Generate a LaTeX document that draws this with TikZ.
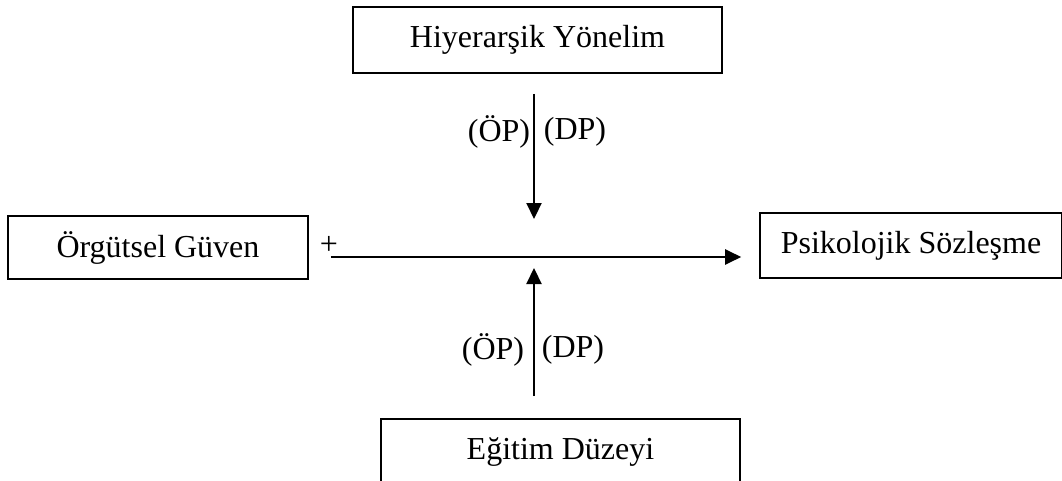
\documentclass[tikz,border=0pt]{standalone}
\usepackage{fontspec}
\setmainfont{Liberation Serif}
\usetikzlibrary{arrows.meta}
\begin{document}
\begin{tikzpicture}[x=1pt,y=-1pt,
  box/.style={draw,line width=1.6pt,inner sep=0pt,font=\fontsize{32}{36}\selectfont},
  lbl/.style={inner sep=0pt,font=\fontsize{32}{36}\selectfont},
  arr/.style={line width=2.2pt,-{Triangle[length=16pt,width=15pt]}}]
\clip (0,0) rectangle (1062,481);
\fill[white] (0,0) rectangle (1062,481);
\node[box,minimum width=369pt,minimum height=66pt] (top) at (537.5,40) {Hiyerarşik Yönelim};
\node[box,minimum width=300pt,minimum height=63pt] (left) at (158,247.5) {Örgütsel Güven};
\node[box,minimum width=302pt,minimum height=65pt] (right) at (911,245.5) {Psikolojik Sözleşme};
\node[box,minimum width=359pt,minimum height=66pt] (bot) at (560.5,452) {Eğitim Düzeyi};
\coordinate (hl) at (0,257);
\coordinate (vx) at (534,0);
\draw[arr,shorten <=22pt,shorten >=18pt] (left.east |- hl) -- (right.west |- hl);
\draw[arr,shorten <=20pt,shorten >=38pt] (top.south -| vx) -- (hl -| vx);
\draw[arr,shorten <=22pt,shorten >=11pt] (bot.north -| vx) -- (hl -| vx);
\node[lbl] (plus) at (329,245) {+};
\node[lbl] (op1) at (499,132) {(ÖP)};
\node[lbl] (dp1) at (575,132) {(DP)};
\node[lbl] (op2) at (493,350) {(ÖP)};
\node[lbl] (dp2) at (573,350) {(DP)};
\end{tikzpicture}
\end{document}
